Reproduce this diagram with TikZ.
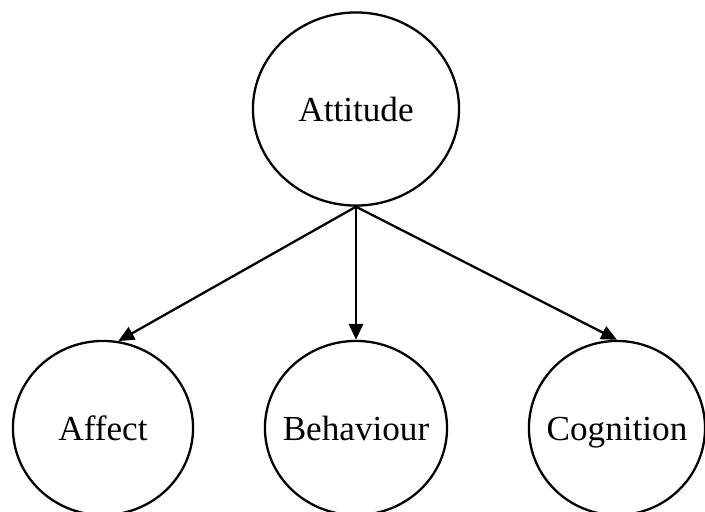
\documentclass[tikz,border=0pt]{standalone}
\usepackage{fontspec}
\setmainfont{Liberation Serif}
\usetikzlibrary{shapes.geometric, arrows.meta, positioning}

\begin{document}
\begin{tikzpicture}
    [x=0.01cm, y=-0.01cm,
    concept/.style={ellipse, draw=black, line width=0.65pt,
    inner xsep=-0.5cm, inner ysep=0pt, text height=1.6ex, text depth=0pt,
    font=\fontsize{10}{12}\selectfont},
    link/.style={draw, line width=0.65pt, -{Triangle[length=4.5pt, width=4pt]}}]

    \useasboundingbox (0,0) rectangle (705,511);

    \node [concept, minimum width=2.06cm, minimum height=1.93cm] (attitude) at (356,109) {Attitude};

    \node [concept, minimum width=1.8cm, minimum height=1.74cm] (affect) at (103,428) {Affect};
    \node [concept, minimum width=1.82cm, minimum height=1.74cm] (behaviour) at (356,428) {Behaviour};
    \node [concept, minimum width=1.76cm, minimum height=1.74cm] (cognition) at (617,428) {Cognition};

    \begin{scope}[every path/.style=link]
        \path (attitude.south) -- (affect.80);
        \path (attitude.south) -- (behaviour.north);
        \path (attitude.south) -- (cognition.north);
    \end{scope}
\end{tikzpicture}
\end{document}
